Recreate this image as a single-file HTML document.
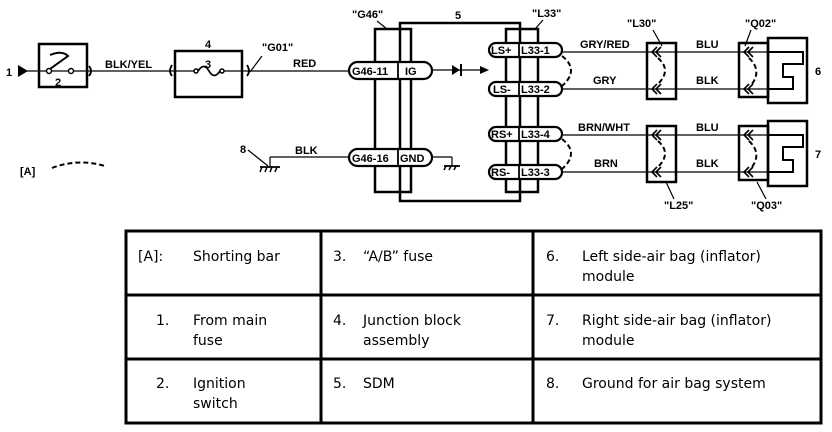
<!DOCTYPE html>
<html><head><meta charset="utf-8"><style>
html,body{margin:0;padding:0;background:#fff;}
body{width:832px;height:432px;position:relative;overflow:hidden;}
svg{position:absolute;left:0;top:0;}
.l{font-family:"Liberation Sans",Arial,sans-serif;font-weight:bold;font-size:11px;fill:#000;}
.t{position:absolute;font-family:"DejaVu Sans","Liberation Sans",sans-serif;font-size:14px;line-height:20px;color:#000;}
</style></head><body>
<svg width="832" height="432" viewBox="0 0 832 432">
<g stroke="#000" fill="none" stroke-width="1.2">
<line x1="18" y1="71" x2="350" y2="71"/>
<line x1="270" y1="157" x2="350" y2="157"/>
<line x1="562" y1="52" x2="768" y2="52"/>
<line x1="562" y1="89" x2="768" y2="89"/>
<line x1="562" y1="135" x2="768" y2="135"/>
<line x1="562" y1="172" x2="768" y2="172"/>
<line x1="432" y1="70" x2="480" y2="70"/>
<line x1="432" y1="157" x2="452" y2="157"/>
<line x1="452" y1="157" x2="452" y2="166"/>
</g>
<polygon points="18,65 28,71 18,77" fill="#000"/>
<text class="l" x="6" y="76">1</text>
<rect x="39" y="44" width="48" height="43" fill="#fff" stroke="#000" stroke-width="2.5"/>
<line x1="39" y1="71" x2="87" y2="71" stroke="#000" stroke-width="1.2"/>
<circle cx="49" cy="71" r="2.5" fill="#fff" stroke="#000" stroke-width="1.5"/>
<circle cx="71" cy="71" r="2.5" fill="#fff" stroke="#000" stroke-width="1.5"/>
<path d="M50,69 L68,56 Q62,50 50,55" fill="none" stroke="#000" stroke-width="2"/>
<text class="l" x="55" y="86">2</text>
<path d="M89,66 Q93,71 89,76" fill="none" stroke="#000" stroke-width="1.8"/>
<text class="l" x="105" y="68">BLK/YEL</text>
<path d="M172,65 Q168,71 172,76" fill="none" stroke="#000" stroke-width="1.8"/>
<rect x="175" y="51" width="67" height="46" fill="#fff" stroke="#000" stroke-width="2.5"/>
<line x1="175" y1="71" x2="194" y2="71" stroke="#000" stroke-width="1.2"/>
<line x1="224" y1="71" x2="242" y2="71" stroke="#000" stroke-width="1.2"/>
<circle cx="196" cy="71" r="2" fill="#fff" stroke="#000" stroke-width="1.5"/>
<circle cx="222" cy="71" r="2" fill="#fff" stroke="#000" stroke-width="1.5"/>
<path d="M198,71 Q204,62 209,71 Q214,80 220,71" fill="none" stroke="#000" stroke-width="1.8"/>
<text class="l" x="205" y="48">4</text>
<text class="l" x="205" y="68">3</text>
<path d="M247,65 Q251,71 247,76" fill="none" stroke="#000" stroke-width="1.8"/>
<line x1="250" y1="72" x2="262" y2="56" stroke="#000" stroke-width="1.2"/>
<text class="l" x="262" y="51">"G01"</text>
<text class="l" x="293" y="67">RED</text>
<text class="l" x="240" y="153">8</text>
<line x1="248" y1="150" x2="268" y2="166" stroke="#000" stroke-width="1.2"/>
<line x1="270" y1="157" x2="270" y2="167" stroke="#000" stroke-width="1.2"/>
<line x1="260" y1="167" x2="280" y2="167" stroke="#000" stroke-width="1.8"/>
<path d="M262,167 l-2,5 M267,167 l-2,5 M272,167 l-2,5 M277,167 l-2,5" stroke="#000" stroke-width="1.5"/>
<text class="l" x="295" y="154">BLK</text>
<text class="l" x="20" y="175">[A]</text>
<path d="M52,168 Q78,158 105,166" fill="none" stroke="#000" stroke-width="2" stroke-dasharray="5,3"/>
<rect x="400" y="23" width="120" height="178" fill="none" stroke="#000" stroke-width="2.5"/>
<text class="l" x="455" y="19">5</text>
<rect x="375" y="29" width="36" height="163" fill="none" stroke="#000" stroke-width="2.5"/>
<text class="l" x="352" y="18">"G46"</text>
<line x1="377" y1="21" x2="387" y2="29" stroke="#000" stroke-width="1.2"/>
<rect x="506" y="29" width="32" height="163" fill="none" stroke="#000" stroke-width="2.5"/>
<text class="l" x="532" y="17">"L33"</text>
<line x1="543" y1="20" x2="535" y2="29" stroke="#000" stroke-width="1.2"/>
<g stroke="#000" stroke-width="2.2" fill="#fff">
<rect x="349" y="62" width="83" height="17" rx="8.5"/>
<rect x="349" y="149" width="83" height="17" rx="8.5"/>
<rect x="489" y="43" width="73" height="14" rx="7"/>
<rect x="489" y="82" width="73" height="14" rx="7"/>
<rect x="489" y="127" width="73" height="14" rx="7"/>
<rect x="489" y="165" width="73" height="14" rx="7"/>
</g>
<g stroke="#000" stroke-width="1.8">
<line x1="398" y1="62" x2="398" y2="79"/>
<line x1="398" y1="149" x2="398" y2="166"/>
<line x1="519" y1="43" x2="519" y2="57"/>
<line x1="519" y1="82" x2="519" y2="96"/>
<line x1="519" y1="127" x2="519" y2="141"/>
<line x1="519" y1="165" x2="519" y2="179"/>
</g>
<text class="l" x="352" y="75">G46-11</text>
<text class="l" x="405" y="75">IG</text>
<text class="l" x="352" y="162">G46-16</text>
<text class="l" x="400" y="162">GND</text>
<text class="l" x="491" y="54">LS+</text>
<text class="l" x="521" y="54">L33-1</text>
<text class="l" x="493" y="93">LS-</text>
<text class="l" x="521" y="93">L33-2</text>
<text class="l" x="491" y="138">RS+</text>
<text class="l" x="521" y="138">L33-4</text>
<text class="l" x="491" y="176">RS-</text>
<text class="l" x="521" y="176">L33-3</text>
<polygon points="452,65 460,70 452,75" fill="#000"/>
<line x1="461" y1="64" x2="461" y2="76" stroke="#000" stroke-width="2"/>
<polygon points="480,66 489,70 480,74" fill="#000"/>
<line x1="444" y1="166" x2="460" y2="166" stroke="#000" stroke-width="1.8"/>
<path d="M446,166 l-2,4 M451,166 l-2,4 M456,166 l-2,4" stroke="#000" stroke-width="1.5"/>
<g fill="none" stroke="#000" stroke-width="2" stroke-dasharray="5,3">
<path d="M562,56 Q580,70 562,86"/>
<path d="M562,139 Q580,153 562,169"/>
<path d="M658,58 Q672,70 658,84"/>
<path d="M658,141 Q672,153 658,167"/>
<path d="M749,58 Q762,70 752,84"/>
<path d="M749,141 Q762,153 752,167"/>
</g>
<g fill="none" stroke="#000" stroke-width="2.5">
<rect x="647" y="43" width="29" height="56"/>
<rect x="647" y="126" width="29" height="56"/>
<rect x="739" y="43" width="29" height="54"/>
<rect x="739" y="126" width="29" height="54"/>
<rect x="768" y="38" width="39" height="65"/>
<rect x="768" y="121" width="39" height="65"/>
<path d="M768,52 H803 V64 H783 V77 H793 V89 H768" stroke-width="2"/>
<path d="M768,135 H803 V147 H783 V160 H793 V172 H768" stroke-width="2"/>
</g>
<g fill="none" stroke="#000" stroke-width="1.6">
<path d="M657,47 l-5,5 l5,5 M661,47 l-5,5 l5,5"/>
<path d="M657,84 l-5,5 l5,5 M661,84 l-5,5 l5,5"/>
<path d="M657,130 l-5,5 l5,5 M661,130 l-5,5 l5,5"/>
<path d="M657,167 l-5,5 l5,5 M661,167 l-5,5 l5,5"/>
<path d="M749,47 l-5,5 l5,5 M753,47 l-5,5 l5,5"/>
<path d="M749,84 l-5,5 l5,5 M753,84 l-5,5 l5,5"/>
<path d="M749,130 l-5,5 l5,5 M753,130 l-5,5 l5,5"/>
<path d="M749,167 l-5,5 l5,5 M753,167 l-5,5 l5,5"/>
</g>
<g stroke="#000" stroke-width="1.2">
<line x1="653" y1="30" x2="662" y2="46"/>
<line x1="751" y1="30" x2="745" y2="46"/>
<line x1="674" y1="199" x2="666" y2="182"/>
<line x1="766" y1="199" x2="757" y2="182"/>
</g>
<text class="l" x="627" y="27">"L30"</text>
<text class="l" x="745" y="27">"Q02"</text>
<text class="l" x="664" y="209">"L25"</text>
<text class="l" x="751" y="209">"Q03"</text>
<text class="l" x="580" y="48">GRY/RED</text>
<text class="l" x="593" y="84">GRY</text>
<text class="l" x="696" y="48">BLU</text>
<text class="l" x="696" y="84">BLK</text>
<text class="l" x="578" y="131">BRN/WHT</text>
<text class="l" x="594" y="167">BRN</text>
<text class="l" x="696" y="131">BLU</text>
<text class="l" x="696" y="167">BLK</text>
<text class="l" x="815" y="75">6</text>
<text class="l" x="815" y="158">7</text>
<g stroke="#000" stroke-width="3" fill="none">
<rect x="126" y="231" width="695" height="192"/>
<line x1="321" y1="231" x2="321" y2="423"/>
<line x1="533" y1="231" x2="533" y2="423"/>
<line x1="126" y1="295" x2="821" y2="295"/>
<line x1="126" y1="359" x2="821" y2="359"/>
</g>
</svg>
<div class="t" style="left:138px;top:247px">[A]:</div>
<div class="t" style="left:193px;top:247px">Shorting bar</div>
<div class="t" style="left:333px;top:247px">3.</div>
<div class="t" style="left:363px;top:247px">“A/B” fuse</div>
<div class="t" style="left:546px;top:247px">6.</div>
<div class="t" style="left:582px;top:247px">Left side-air bag (inflator)<br>module</div>
<div class="t" style="left:156px;top:311px">1.</div>
<div class="t" style="left:193px;top:311px">From main<br>fuse</div>
<div class="t" style="left:333px;top:311px">4.</div>
<div class="t" style="left:363px;top:311px">Junction block<br>assembly</div>
<div class="t" style="left:546px;top:311px">7.</div>
<div class="t" style="left:582px;top:311px">Right side-air bag (inflator)<br>module</div>
<div class="t" style="left:156px;top:374px">2.</div>
<div class="t" style="left:193px;top:374px">Ignition<br>switch</div>
<div class="t" style="left:333px;top:374px">5.</div>
<div class="t" style="left:363px;top:374px">SDM</div>
<div class="t" style="left:546px;top:374px">8.</div>
<div class="t" style="left:582px;top:374px">Ground for air bag system</div>
</body></html>
